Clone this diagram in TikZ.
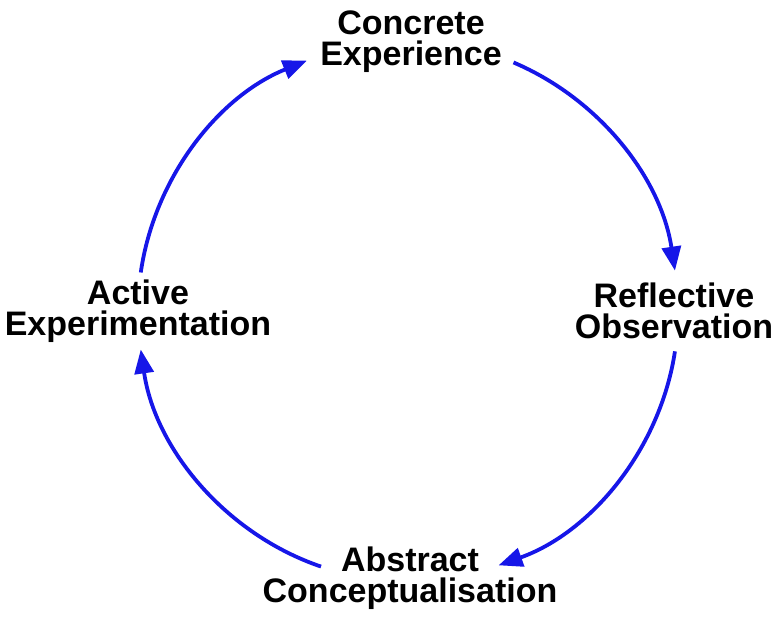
\documentclass[tikz,border=0pt]{standalone}
\usepackage{fontspec}
\setmainfont{Liberation Sans}
\usepackage{xcolor}
\usetikzlibrary{arrows.meta}
\usetikzlibrary{calc}

\definecolor{cycleblue}{RGB}{22,22,232}

\begin{document}
\begin{tikzpicture}[
  x=1pt, y=1pt,
  stage/.style={
    align=center,
    inner sep=0pt,
    font=\fontsize{34}{31}\selectfont\bfseries
  },
  arrow/.style={
    -{Triangle[length=24pt,width=19pt]},
    line width=3.8pt,
    cycleblue,
    looseness=0.91
  }
]
\useasboundingbox (0,0) rectangle (780,620);

\coordinate (hub) at (408,309);

\node[stage] (concrete) at (411,578) {Concrete\\Experience};
\node[stage] (reflect) at (674,309) {Reflective\\Observation};
\node[stage] (abstract) at (410,42) {Abstract\\Conceptualisation};
\node[stage] (active) at (138,309) {Active\\Experimentation};

% arc ends on the cycle
\coordinate (concrete-out) at ($(hub)+(67:270)$);
\coordinate (reflect-in) at ($(hub)+(8.6:270)$);
\coordinate (reflect-out) at ($(hub)+(-8.6:270)$);
\coordinate (abstract-in) at ($(hub)+(-70.4:270)$);
\coordinate (abstract-out) at ($(hub)+(-108.8:270)$);
\coordinate (active-in) at ($(hub)+(-171.8:270)$);
\coordinate (active-out) at ($(hub)+(171.8:270)$);
\coordinate (concrete-in) at ($(hub)+(112:270)$);

\draw[arrow] (concrete-out) to[bend left=29.2] (reflect-in);
\draw[arrow] (reflect-out) to[bend left=30.9] (abstract-in);
\draw[arrow] (abstract-out) to[bend left=31.5] (active-in);
\draw[arrow] (active-out) to[bend left=29.9] (concrete-in);

\end{tikzpicture}
\end{document}
